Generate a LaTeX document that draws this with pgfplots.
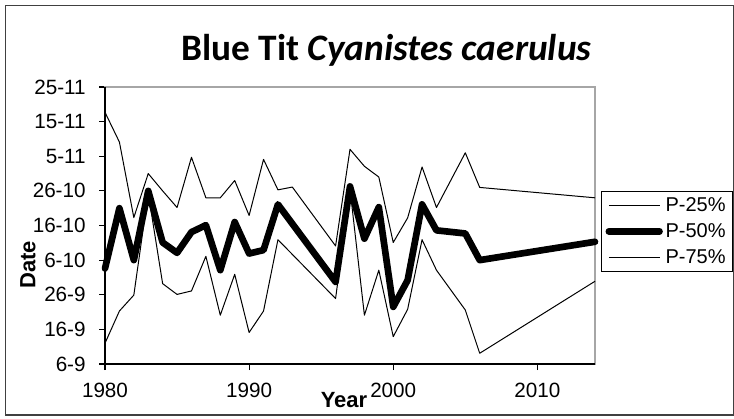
\documentclass[border=0pt]{standalone}
\usepackage{pgfplots}
\pgfplotsset{compat=1.18}
\usepackage{fontspec}
\setmainfont{Liberation Sans}
\newfontfamily\titlefont{Carlito}
\begin{document}
\begin{tikzpicture}
\useasboundingbox (0,0) rectangle (550.5pt,313.5pt);
\draw[line width=0.9pt, black!75] (4.1pt,2.25pt) rectangle (550.1pt,309.3pt);
\begin{axis}[
  at={(78.75pt,40.5pt)}, anchor=south west,
  scale only axis, width=367.5pt, height=207.75pt,
  xmin=1980, xmax=2014, ymin=0, ymax=80,
  xtick={1980,1990,2000,2010},
  ytick={0,10,20,30,40,50,60,70,80},
  yticklabels={6-9,16-9,26-9,6-10,16-10,26-10,5-11,15-11,25-11},
  xtick pos=left, ytick pos=left,
  tick align=outside, major tick length=4.5pt,
  tick style={black, line width=0.8pt},
  axis line style={gray!70, line width=1pt},
  /pgf/number format/assume math mode=true,
  xticklabel style={/pgf/number format/1000 sep={}, yshift=-6pt},
  yticklabel style={xshift=-6.5pt},
  ticklabel style={font=\fontsize{15.5}{18}\selectfont},
  legend style={at={(1.0122,0.625)}, anchor=north west, draw=black, line width=0.8pt,
    font=\fontsize{15}{18}\selectfont, row sep=3.5pt, inner xsep=3pt, inner ysep=2.5pt},
  legend cell align=left,
  legend image code/.code={\draw[#1] (0pt,0pt) -- (38pt,0pt);},
  clip=false,
]
\draw[black, line width=1.1pt] (rel axis cs:0,1) -- (rel axis cs:0,0) -- (rel axis cs:1,0);
\addplot[black, line width=0.75pt, line join=round] coordinates {
(1980,72.7) (1981,64.1) (1982,42.3) (1983,55.0) (1984,50.0) (1985,45.2) (1986,59.7)
(1987,48.0) (1988,48.0) (1989,53.0) (1990,42.9) (1991,59.1) (1992,50.3) (1993,51.1)
(1996,34.1) (1997,62.0) (1998,57.1) (1999,54.0) (2000,35.1) (2001,42.2) (2002,56.9)
(2003,45.2) (2005,61.0) (2006,51.0) (2014,48.0)};
\addlegendentry{P-25\%}
\addplot[black, line width=5pt, line join=round, line cap=round] coordinates {
(1980,27.6) (1981,45.0) (1982,30.0) (1983,50.0) (1984,35.1) (1985,32.1) (1986,38.1)
(1987,40.1) (1988,27.1) (1989,41.0) (1990,31.9) (1991,32.9) (1992,46.1)
(1996,23.7) (1997,51.3) (1998,36.2) (1999,45.3) (2000,16.5) (2001,24.2) (2002,46.1)
(2003,38.6) (2005,37.7) (2006,30.0) (2014,35.3)};
\addlegendentry{P-50\%}
\addplot[black, line width=0.75pt, line join=round] coordinates {
(1980,6.0) (1981,15.3) (1982,19.9) (1983,49.3) (1984,23.2) (1985,20.1) (1986,21.1)
(1987,31.1) (1988,14.1) (1989,25.9) (1990,9.1) (1991,15.3) (1992,35.9)
(1996,18.9) (1997,50.5) (1998,14.1) (1999,27.1) (2000,7.9) (2001,15.8) (2002,35.9)
(2003,27.1) (2005,15.6) (2006,3.1) (2014,23.9)};
\addlegendentry{P-75\%}
\end{axis}
\node[anchor=base, font=\titlefont\bfseries\fontsize{28}{32}\selectfont] at (289.9pt,268pt) {Blue Tit \textit{Cyanistes caerulus}};
\node[rotate=90, font=\bfseries\fontsize{16.5}{19}\selectfont] at (21pt,114.75pt) {Date};
\node[font=\bfseries\fontsize{16.5}{19}\selectfont] at (258pt,13.5pt) {Year};
\end{tikzpicture}
\end{document}
